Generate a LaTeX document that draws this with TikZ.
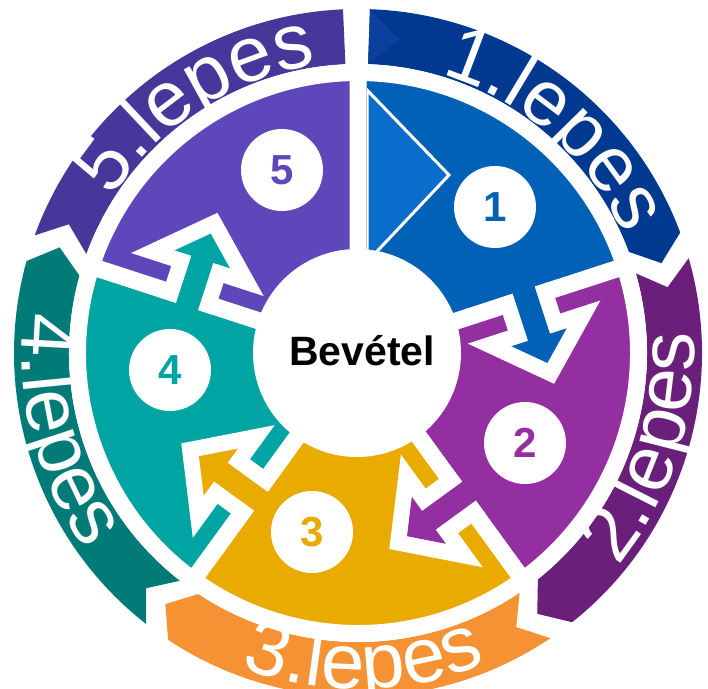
\documentclass[tikz,border=0pt]{standalone}
\usepackage{fontspec}
\newfontfamily\arialfont{Liberation Sans}
\usetikzlibrary{decorations.text}
\definecolor{sA}{HTML}{0061B7}
\definecolor{sAl}{HTML}{0A6CCB}
\definecolor{sB}{HTML}{932FA0}
\definecolor{sC}{HTML}{E9AB00}
\definecolor{sD}{HTML}{00A4A3}
\definecolor{sE}{HTML}{5D47BA}
\definecolor{bA}{HTML}{00398F}
\definecolor{bAl}{HTML}{0B409E}
\definecolor{bB}{HTML}{6A1F7A}
\definecolor{bC}{HTML}{F59234}
\definecolor{bD}{HTML}{007B78}
\definecolor{bE}{HTML}{48379A}
\newcommand\lblfont{\arialfont\fontsize{78}{78}\selectfont}
\tikzset{
  sector/.style={draw=white, line width=17pt},
  numcirc/.style={circle, fill=white, minimum size=82pt, inner sep=0pt,
    font=\arialfont\bfseries\fontsize{42}{42}\selectfont},
  lbl/.style={decorate, decoration={text along path, text color=white,
    text align=center, text={|\lblfont|#1}}},
}
\begin{document}
\begin{tikzpicture}[x=1pt, y=1pt, line join=miter]
\useasboundingbox (-358,-335) rectangle (350,353);
\clip (-358,-335) rectangle (350,353);
\fill[white] (-358,-335) rectangle (350,353);

% outer bands
\fill[bA] (88:344) arc[start angle=88, end angle=20.5, radius=344pt] -- (16.5:316.5)
  -- (20.5:289) arc[start angle=20.5, end angle=88, radius=289pt] -- cycle;
\fill[bAl] (88:344) -- (82.5:316.5) -- (88:289) -- cycle;
\fill[bB] (16:344) arc[start angle=16, end angle=-51.5, radius=344pt] -- (-55.5:316.5)
  -- (-51.5:289) arc[start angle=-51.5, end angle=16, radius=289pt] -- (12:316.5) -- cycle;
\fill[bC] (-56:344) arc[start angle=-56, end angle=-123.5, radius=344pt] -- (-127.5:316.5)
  -- (-123.5:289) arc[start angle=-123.5, end angle=-56, radius=289pt] -- (-60:316.5) -- cycle;
\fill[bD] (-128:344) arc[start angle=-128, end angle=-195.5, radius=344pt] -- (-199.5:316.5)
  -- (-195.5:289) arc[start angle=-195.5, end angle=-128, radius=289pt] -- (-132:316.5) -- cycle;
\fill[bE] (160:344) arc[start angle=160, end angle=92.5, radius=344pt]
  -- (92.5:289) arc[start angle=92.5, end angle=160, radius=289pt] -- (156:316.5) -- cycle;

% band labels
\path[lbl={1.lepes}] (83.7:291) arc[start angle=83.7, end angle=13.7, radius=291pt];
\path[lbl={2.lepes}] (-53:336) arc[start angle=-53, end angle=17, radius=336pt];
\path[lbl={3.lepes}] (-124:336) arc[start angle=-124, end angle=-54, radius=336pt];
\path[lbl={4.lepes}] (-200.5:336) arc[start angle=-200.5, end angle=-130.5, radius=336pt];
\path[lbl={5.lepes}] (158:291) arc[start angle=158, end angle=88, radius=291pt];

% main sectors
\path[sector, fill=sA] (0,0) -- (90:280.5) arc[start angle=90, end angle=18, radius=280.5pt] -- cycle;
\path[sector, fill=sB] (0,0) -- (18:280.5) arc[start angle=18, end angle=-54, radius=280.5pt] -- cycle;
\path[sector, fill=sC] (0,0) -- (-54:280.5) arc[start angle=-54, end angle=-126, radius=280.5pt] -- cycle;
\path[sector, fill=sD] (0,0) -- (-126:280.5) arc[start angle=-126, end angle=-198, radius=280.5pt] -- cycle;
\path[sector, fill=sE] (0,0) -- (162:280.5) arc[start angle=162, end angle=90, radius=280.5pt] -- cycle;

% arrows between sectors
\foreach \b/\c in {18/sA, -54/sB, -126/sC, -198/sD} {
  \begin{scope}[rotate=\b]
    \begin{scope}
      \clip (0,8.5) rectangle (300,-150);
      \draw[white, line width=32pt] (165.5,11) -- (165.5,-41) -- (148,-41) -- (177,-68)
        -- (206,-41) -- (188.5,-41) -- (188.5,11) -- cycle;
    \end{scope}
    \fill[\c] (165.5,11) -- (165.5,-41) -- (148,-41) -- (177,-68)
      -- (206,-41) -- (188.5,-41) -- (188.5,11) -- cycle;
  \end{scope}
}
\begin{scope}[rotate=90]
  \filldraw[fill=sAl, draw=white, line width=3pt] (91,-9) -- (178,-91) -- (263,-9) -- cycle;
\end{scope}
\draw[gray!45, line width=1.5pt] (8.5,100) -- (8.5,271);

% centre
\fill[white] (-1,0) circle[radius=104pt];
\node[font=\arialfont\bfseries\fontsize{41}{41}\selectfont, anchor=base] (centre) at (4,-12) {Bevétel};

% number circles
\node[numcirc, text=sA] (n1) at (137,146) {1};
\node[numcirc, text=sB] (n2) at (167,-90) {2};
\node[numcirc, text=sC] (n3) at (-46,-179) {3};
\node[numcirc, text=sD] (n4) at (-188,-17) {4};
\node[numcirc, text=sE] (n5) at (-76,183) {5};
\end{tikzpicture}
\end{document}
